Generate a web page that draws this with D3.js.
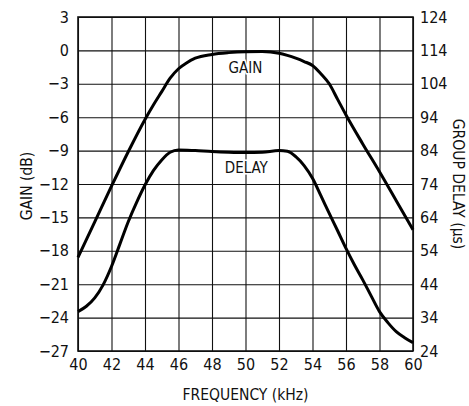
<!DOCTYPE html>
<html>
<head>
<meta charset="utf-8">
<script src="https://cdn.jsdelivr.net/npm/d3@7"></script>
<style>
  body { margin: 0; background: #fff; }
  svg text { font-family: "DejaVu Sans Condensed", "DejaVu Sans", sans-serif; font-stretch: condensed; fill: #111; }
</style>
</head>
<body>
<svg id="chart"></svg>
<script>
// frequency sample points (kHz)
const gainFreq = [40, 41, 42, 43, 44, 44.5, 45, 45.5, 46, 46.5, 47, 48, 49, 50, 51, 52, 52.5, 53, 53.5, 54, 54.5, 55, 55.5, 56, 57, 58, 59, 60];
const gainDb = [-18.6, -15.4, -12.2, -9.1, -6.2, -4.9, -3.7, -2.5, -1.65, -1.1, -0.7, -0.36, -0.2, -0.12, -0.1, -0.25, -0.45, -0.7, -1.0, -1.35, -2.1, -3.0, -4.4, -5.8, -8.4, -10.9, -13.5, -16.1];

const delayFreq = [40, 40.5, 41, 41.5, 42, 42.5, 43, 43.5, 44, 44.5, 45, 45.5, 46, 47, 48, 49, 50, 51, 52, 52.5, 53, 53.5, 54, 54.5, 55, 55.5, 56, 56.5, 57, 57.5, 58, 58.5, 59, 59.5, 60];
const delayUs = [35.8, 37.4, 39.9, 43.8, 49.3, 56, 62.7, 68.5, 73.7, 78, 81.2, 83.5, 84.2, 84, 83.7, 83.5, 83.4, 83.5, 84, 83.8, 82.2, 79.5, 75.7, 70.5, 65.2, 60, 54.7, 49.8, 45.3, 40.5, 35.8, 32.5, 29.8, 28, 26.5];

const xTicks = [40, 42, 44, 46, 48, 50, 52, 54, 56, 58, 60];
const gainTicks = [3, 0, -3, -6, -9, -12, -15, -18, -21, -24, -27];
const delayTicks = [124, 114, 104, 94, 84, 74, 64, 54, 44, 34, 24];

const config = {
    width: 469,
    height: 406,
    margin: {top: 17, right: 56, bottom: 55, left: 78}
};

const svg = d3.select('#chart')
    .attr('width', config.width)
    .attr('height', config.height);

const width = config.width - config.margin.left - config.margin.right;
const height = config.height - config.margin.top - config.margin.bottom;

const chart = svg.append('g')
    .attr('transform', `translate(${config.margin.left},${config.margin.top})`);

const xScale = d3.scaleLinear().domain([40, 60]).range([0, width]);
const yGain = d3.scaleLinear().domain([-27, 3]).range([height, 0]);
const yDelay = d3.scaleLinear().domain([24, 124]).range([height, 0]);

const fmt = d => d < 0 ? '\u2212' + Math.abs(d) : String(d);
const tickFont = '"DejaVu Sans Condensed", "DejaVu Sans", sans-serif';

// grid
chart.append('g')
    .attr('transform', `translate(0,${height})`)
    .call(d3.axisBottom(xScale).tickValues(xTicks).tickSize(-height).tickFormat(''))
    .call(g => g.select('.domain').remove())
    .call(g => g.selectAll('.tick line').attr('stroke', '#111').attr('stroke-width', 1.1));

chart.append('g')
    .call(d3.axisLeft(yGain).tickValues(gainTicks).tickSize(-width).tickFormat(''))
    .call(g => g.select('.domain').remove())
    .call(g => g.selectAll('.tick line').attr('stroke', '#111').attr('stroke-width', 1.1));

// frame
chart.append('rect')
    .attr('width', width)
    .attr('height', height)
    .attr('fill', 'none')
    .attr('stroke', '#111')
    .attr('stroke-width', 1.6);

// left axis labels
chart.append('g')
    .call(d3.axisLeft(yGain).tickValues(gainTicks).tickSize(0).tickPadding(9).tickFormat(fmt))
    .call(g => g.select('.domain').remove())
    .call(g => g.selectAll('text').attr('font-size', 16).attr('fill', '#111').style('font-family', tickFont));

// right axis labels
chart.append('g')
    .attr('transform', `translate(${width},0)`)
    .call(d3.axisRight(yDelay).tickValues(delayTicks).tickSize(0).tickPadding(7))
    .call(g => g.select('.domain').remove())
    .call(g => g.selectAll('text').attr('font-size', 16).attr('fill', '#111').style('font-family', tickFont));

// bottom labels
chart.append('g')
    .attr('transform', `translate(0,${height})`)
    .call(d3.axisBottom(xScale).tickValues(xTicks).tickSize(0).tickPadding(8))
    .call(g => g.select('.domain').remove())
    .call(g => g.selectAll('text').attr('font-size', 16).attr('fill', '#111').style('font-family', tickFont));

// curves
const gainData = gainFreq.map((f, i) => ({f, v: gainDb[i]}));
const delayData = delayFreq.map((f, i) => ({f, v: delayUs[i]}));

chart.append('path')
    .datum(gainData)
    .attr('fill', 'none')
    .attr('stroke', '#000')
    .attr('stroke-width', 3)
    .attr('d', d3.line().x(d => xScale(d.f)).y(d => yGain(d.v)).curve(d3.curveMonotoneX));

chart.append('path')
    .datum(delayData)
    .attr('fill', 'none')
    .attr('stroke', '#000')
    .attr('stroke-width', 3)
    .attr('d', d3.line().x(d => xScale(d.f)).y(d => yDelay(d.v)).curve(d3.curveMonotoneX));

// curve labels
chart.append('text')
    .attr('x', xScale(50))
    .attr('y', yGain(-2.05))
    .attr('text-anchor', 'middle')
    .attr('font-size', 15)
    .attr('fill', '#111')
    .style('paint-order', 'stroke')
    .style('stroke', '#fff')
    .style('stroke-width', 3)
    .text('GAIN');

chart.append('text')
    .attr('x', xScale(50.05))
    .attr('y', yGain(-11.0))
    .attr('text-anchor', 'middle')
    .attr('font-size', 15)
    .attr('fill', '#111')
    .style('paint-order', 'stroke')
    .style('stroke', '#fff')
    .style('stroke-width', 3)
    .text('DELAY');

// axis titles
svg.append('text')
    .attr('transform', `translate(32,${config.margin.top + height / 2 + 2}) rotate(-90)`)
    .attr('text-anchor', 'middle')
    .attr('font-size', 15.5)
    .text('GAIN (dB)');

svg.append('text')
    .attr('transform', `translate(453,${config.margin.top + height / 2}) rotate(90)`)
    .attr('text-anchor', 'middle')
    .attr('font-size', 15.5)
    .text('GROUP DELAY (\u00b5s)');

svg.append('text')
    .attr('x', config.margin.left + width / 2)
    .attr('y', 400)
    .attr('text-anchor', 'middle')
    .attr('font-size', 15.5)
    .text('FREQUENCY (kHz)');
</script>
</body>
</html>
